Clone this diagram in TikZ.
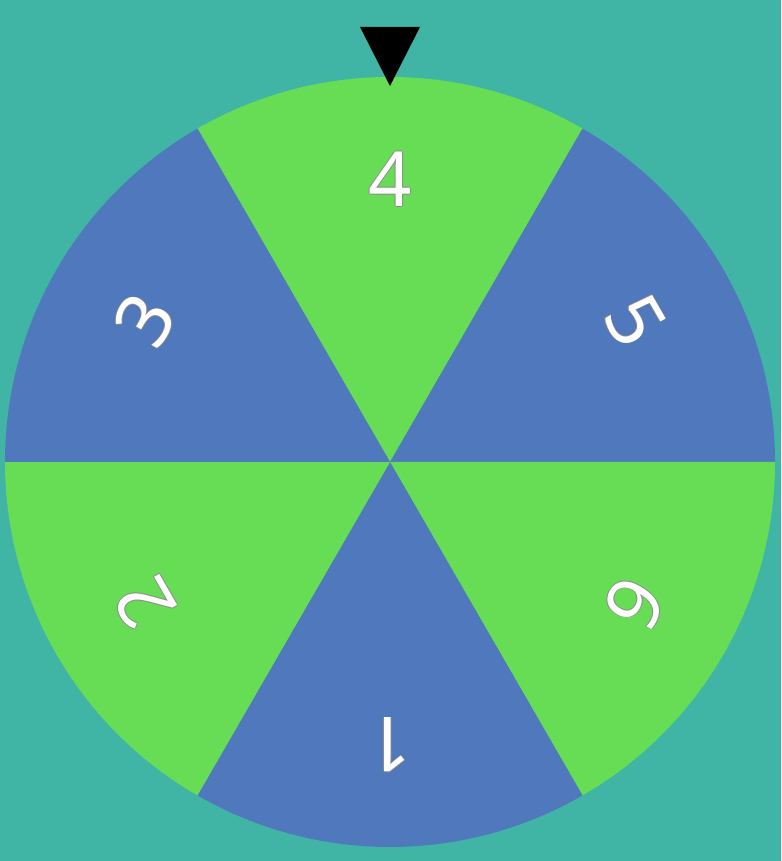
\documentclass[tikz,border=0pt]{standalone}
\usepackage{fontspec}
\setmainfont{Noto Sans}
\usetikzlibrary{calc}
\definecolor{bgc}{HTML}{41B5A5}
\definecolor{grn}{HTML}{66DD55}
\definecolor{blu}{HTML}{4F78BD}
\definecolor{edge}{HTML}{8A8A8A}
\tikzset{
  lbl/.style={font=\fontsize{76}{76}\selectfont, text=white, inner sep=0pt},
  lblsh/.style={font=\fontsize{76}{76}\selectfont, text=edge, inner sep=0pt},
}
\newcommand{\wheellabel}[3]{%
  \foreach \dx/\dy in {-0.8/0,0.8/0,0/-0.8,0/0.8}{
    \node[lblsh, rotate=#2] at ([shift={(\dx pt,\dy pt)}]#1) {#3};
  }
  \node[lbl, rotate=#2] at (#1) {#3};
}
\begin{document}
\begin{tikzpicture}[x=1pt,y=1pt]
\useasboundingbox (0,0) rectangle (781,861);
\fill[bgc] (0,0) rectangle (781,861);
\coordinate (C) at (390,399);
\fill[grn] (C) -- ++(60:385) arc (60:120:385) -- cycle;
\fill[blu] (C) -- ++(0:385) arc (0:60:385) -- cycle;
\fill[grn] (C) -- ++(-60:385) arc (-60:0:385) -- cycle;
\fill[blu] (C) -- ++(240:385) arc (240:300:385) -- cycle;
\fill[grn] (C) -- ++(180:385) arc (180:240:385) -- cycle;
\fill[blu] (C) -- ++(120:385) arc (120:180:385) -- cycle;
\coordinate (L4) at ($(C)+(90:283)$);
\coordinate (L5) at ($(C)+(30:283)$);
\coordinate (L6) at ($(C)+(-30:283)$);
\coordinate (L1) at ($(C)+(-90:283)$);
\coordinate (L2) at ($(C)+(210:283)$);
\coordinate (L3) at ($(C)+(150:283)$);
\wheellabel{L4}{0}{4}
\wheellabel{L5}{-60}{5}
\wheellabel{L6}{-120}{6}
\wheellabel{L1}{180}{1}
\wheellabel{L2}{120}{2}
\wheellabel{L3}{60}{3}
\fill[black] (360,834) -- (420,834) -- (390,775) -- cycle;
\end{tikzpicture}
\end{document}
